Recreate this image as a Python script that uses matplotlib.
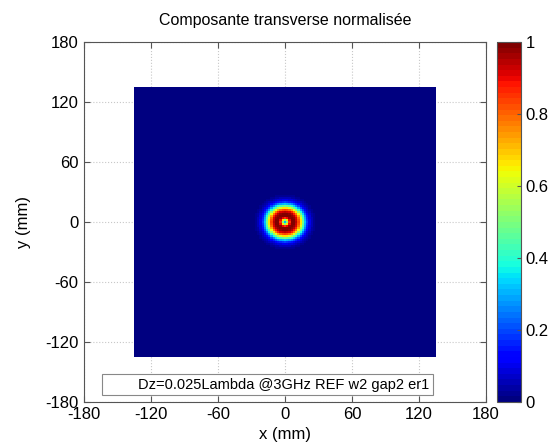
import numpy as np
import matplotlib
matplotlib.use('Agg')
import matplotlib.pyplot as plt

plt.rcParams['font.family'] = ['Liberation Sans', 'DejaVu Sans']
plt.rcParams['axes.unicode_minus'] = False

#%% data
# radial profile of the normalised transverse component (r in mm)
r_mm = [0, 1, 2, 3, 4, 5, 6, 7, 8, 9, 10, 11, 12, 13, 14, 15, 16, 17, 18, 19, 20, 21, 22, 24, 26, 28, 32]
e_norm = [0.3, 0.36, 0.5, 0.7, 0.85, 0.94, 0.99, 1.0, 0.99, 0.97, 0.94, 0.9, 0.84, 0.76, 0.67, 0.58,
          0.49, 0.4, 0.32, 0.25, 0.19, 0.14, 0.1, 0.055, 0.028, 0.012, 0.0]
x_edges = np.arange(-135, 136, 2)
y_edges = np.arange(-135, 136, 2)
ticks = [-180, -120, -60, 0, 60, 120, 180]
cb_ticks = [0, 0.2, 0.4, 0.6, 0.8, 1]
legend_label = 'Dz=0.025Lambda @3GHz REF w2 gap2 er1'

#%% field map
xc = (x_edges[:-1] + x_edges[1:]) / 2
yc = (y_edges[:-1] + y_edges[1:]) / 2
X, Y = np.meshgrid(xc, yc)
R = np.sqrt(X**2 + Y**2)
Z = np.interp(R, r_mm, e_norm)

#%% plotting
fig = plt.figure(figsize=(5.58, 4.48), dpi=100)
ax = fig.add_axes([0.1505, 0.103, 0.7205, 0.803])
cax = fig.add_axes([0.8907, 0.103, 0.043, 0.803])

ax.set_axisbelow(True)
ax.grid(True, linestyle=':', color='#c8c8c8', linewidth=0.8)
mesh = ax.pcolormesh(x_edges, y_edges, Z, cmap=plt.get_cmap('jet', 64), vmin=0, vmax=1, zorder=2)
ax.plot([], [], linestyle='none', label=legend_label)

ax.set_xlim(-180, 180)
ax.set_ylim(-180, 180)
ax.set_xticks(ticks)
ax.set_yticks(ticks)
ax.tick_params(direction='in', top=True, right=True, labelsize=12, length=4, color='#555555', pad=4)
for s in ax.spines.values():
    s.set_color('#555555')
    s.set_zorder(3)
ax.set_xlabel('x (mm)', fontsize=12, labelpad=3)
ax.set_ylabel('y (mm)', fontsize=12, labelpad=10)
ax.set_title('Composante transverse normalisée', fontsize=11.5, pad=12)

leg = ax.legend(loc='lower left', bbox_to_anchor=(0.045, 0.018), fontsize=10.5, fancybox=False,
                edgecolor='#888888', framealpha=1, borderpad=0.25, handlelength=1.6, handletextpad=0.6,
                borderaxespad=0)
leg.get_frame().set_linewidth(0.8)

cb = fig.colorbar(mesh, cax=cax, ticks=cb_ticks)
cb.ax.tick_params(direction='in', labelsize=12, length=3, color='#555555')
cb.ax.set_yticklabels(['0', '0.2', '0.4', '0.6', '0.8', '1'])
cb.outline.set_edgecolor('#555555')

fig.savefig('out.png', dpi=100)
